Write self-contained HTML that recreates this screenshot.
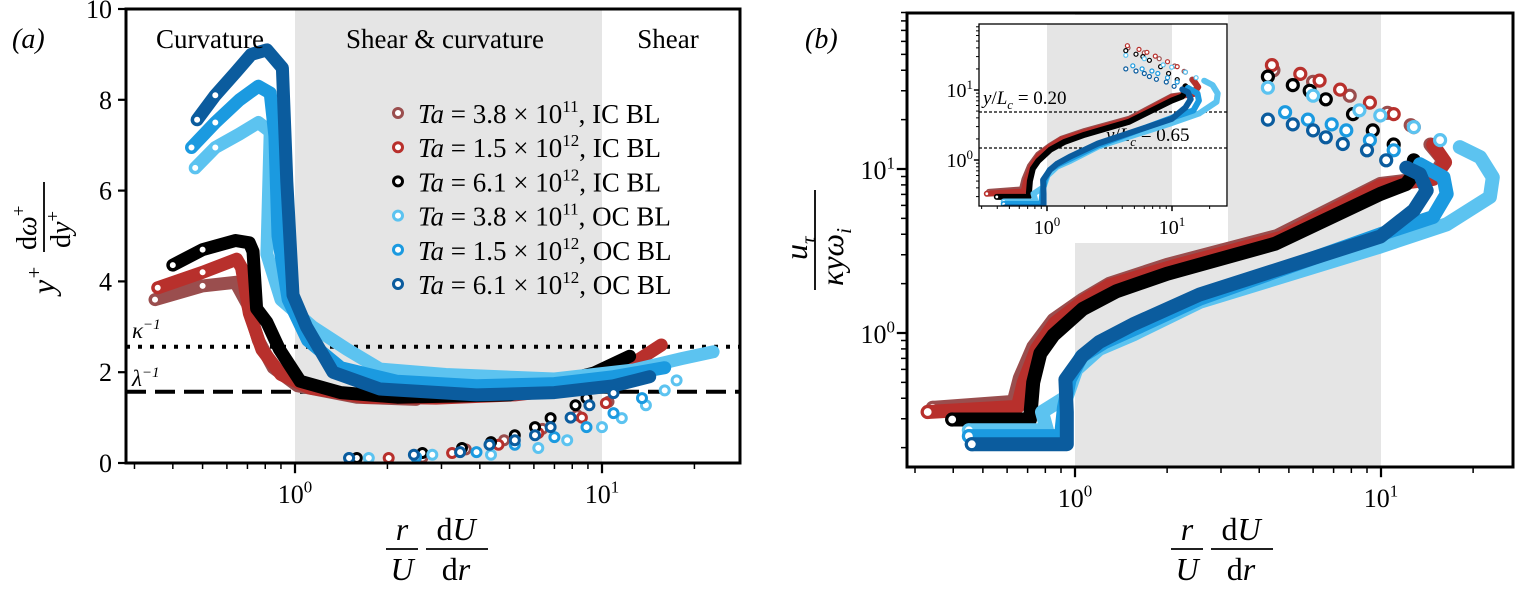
<!DOCTYPE html>
<html><head><meta charset="utf-8">
<style>
html,body{margin:0;padding:0;background:#fff;}
svg{display:block;font-family:"Liberation Serif",serif;}
</style></head>
<body>
<svg id="fig" width="1520" height="589" viewBox="0 0 1520 589"></svg>
<script>
// ---------- DATA ----------
const seriesNames = ["ic-38e11","ic-15e12","ic-61e12","oc-38e11","oc-15e12","oc-61e12"];
const seriesColors = ["#9a4e4e","#b8302c","#000000","#5cc3f0","#1b9ae0","#0b5c9e"];
const legendMant = ["3.8","1.5","6.1","3.8","1.5","6.1"];
const legendExp = ["11","12","12","11","12","12"];
const legendBL = ["IC BL","IC BL","IC BL","OC BL","OC BL","OC BL"];

// panel (a): main branch and tail branch [x, y]
const aMain0 = [[0.35,3.6],[0.5,3.9],[0.64,3.98],[0.7,3.5],[0.76,2.7],[0.85,2.1],[1.02,1.7],[1.59,1.45],[2.48,1.4]];
const aMain1 = [[0.357,3.86],[0.5,4.2],[0.646,4.49],[0.67,4.3],[0.71,3.3],[0.78,2.5],[0.9,1.95],[1.12,1.65],[1.69,1.45],[2.88,1.43],[5.2,1.5],[9.4,1.7],[12,2.1],[15.6,2.6]];
const aMain2 = [[0.40,4.36],[0.5,4.7],[0.64,4.9],[0.71,4.85],[0.73,4.66],[0.75,3.4],[0.81,3.1],[0.89,2.5],[1.04,1.8],[1.41,1.55],[2.15,1.45],[5,1.5],[9.4,1.98],[12.3,2.35]];
const aMain3 = [[0.473,6.5],[0.55,6.95],[0.66,7.25],[0.76,7.5],[0.83,7.3],[0.81,4.6],[0.9,3.6],[1.14,3.0],[1.48,2.5],[1.89,2.07],[3.1,1.95],[7,1.85],[12.7,2.05],[18.2,2.3],[23,2.45]];
const aMain4 = [[0.46,6.95],[0.55,7.5],[0.66,8.0],[0.76,8.3],[0.83,8.15],[0.86,7.2],[0.88,5.0],[0.95,3.6],[1.1,2.7],[1.41,2.1],[2.15,1.8],[3.9,1.7],[7,1.75],[10.9,1.9],[16,2.1]];
const aMain5 = [[0.48,7.56],[0.55,8.1],[0.64,8.6],[0.72,9.0],[0.81,9.1],[0.91,8.7],[0.94,6.2],[0.985,3.7],[1.09,3.0],[1.33,2.0],[1.89,1.63],[3.9,1.5],[7.0,1.55],[10.9,1.7],[14.3,1.9]];
const aTail0 = [[2.6,0.12],[3.6,0.3],[4.8,0.5],[6.4,0.75],[8.3,1.05],[10.5,1.35]];
const aTail1 = [[2.02,0.11],[3.25,0.22],[4.6,0.4],[6.2,0.66],[8.6,1.0],[10.3,1.32]];
const aTail2 = [[1.59,0.11],[2.6,0.22],[3.5,0.33],[4.35,0.46],[5.2,0.61],[6.05,0.79],[6.8,0.99],[8.2,1.27],[8.9,1.43]];
const aTail3 = [[1.74,0.11],[2.8,0.18],[4.35,0.18],[6.2,0.33],[7.7,0.5],[10,0.79],[11.6,0.99],[13.9,1.27],[16,1.6],[17.5,1.82]];
const aTail4 = [[1.5,0.11],[2.48,0.13],[3.9,0.24],[5.2,0.4],[7.0,0.57],[8.9,0.79],[10.9,1.1],[13.5,1.43]];
const aTail5 = [[1.5,0.11],[2.44,0.18],[3.45,0.24],[4.3,0.4],[5.2,0.5],[6.05,0.61],[6.8,0.79],[7.9,1.0],[9.1,1.27],[10.9,1.54]];

// panel (b)
const bMain0 = [[0.343,0.35],[0.63,0.38],[0.66,0.53],[0.73,0.82],[0.85,1.2],[1.06,1.6],[1.3,2.0],[2.0,2.6],[4.57,3.9],[9.95,8.1],[14.8,8.9],[16,11.3],[14.5,14.1]];
const bMain1 = [[0.33,0.33],[0.65,0.355],[0.68,0.5],[0.75,0.8],[0.86,1.15],[1.06,1.55],[1.3,1.95],[2.1,2.55],[4.7,3.8],[9.95,7.9],[14.8,8.7],[16.2,11],[14.8,14]];
const bMain2 = [[0.397,0.297],[0.713,0.297],[0.73,0.5],[0.77,0.75],[0.85,0.97],[1.06,1.4],[1.37,1.8],[2.0,2.3],[4.5,3.5],[9.95,7.05],[12.1,8.1],[13.1,9.9],[12.8,11.3]];
const bMain3 = [[0.45,0.255],[0.81,0.255],[0.78,0.33],[0.94,0.41],[1.01,0.6],[1.2,0.8],[1.55,0.98],[2.56,1.55],[9.95,3.37],[16.4,4.6],[22.7,6.75],[23.2,8.9],[21.1,11.8],[18.1,13.6]];
const bMain4 = [[0.45,0.235],[0.9,0.235],[0.92,0.35],[0.96,0.52],[1.05,0.72],[1.25,0.88],[1.6,1.08],[2.56,1.62],[9.95,4.0],[14.8,5.1],[16.4,7.05],[16,8.9],[13.4,10.7]];
const bMain5 = [[0.46,0.21],[0.94,0.21],[0.94,0.33],[0.93,0.52],[1.06,0.73],[1.2,0.88],[1.55,1.13],[2.56,1.72],[9.95,3.87],[12.8,5.6],[14.1,7.4],[13.4,9.3],[12.1,10.2]];
const bTail0 = [[12.5,18.5],[10.5,22],[7.9,28],[6,34],[4.45,40]];
const bTail1 = [[12.8,18],[11,21.6],[9.2,25.4],[7.35,30.5],[6.3,34.6],[5.45,38],[4.4,43]];
const bTail2 = [[11,14.1],[9.4,17.2],[8.1,21.6],[6.6,26.6],[5.85,30],[5.15,32.5],[4.27,36.6]];
const bTail3 = [[15.6,15],[12.8,18],[9.95,21.2],[8.5,22.8],[6,28],[4.27,31.3]];
const bTail4 = [[11,13],[9.2,15],[7.7,17.2],[6.9,18.7],[5.77,20],[4.86,22.2]];
const bTail5 = [[10.4,11.3],[9,13],[7.5,14.2],[6.6,15.6],[6,17.2],[5.15,18.7],[4.27,20]];

const aTicksY = [0,2,4,6,8,10];
const kappaInv = 2.56, lambdaInv = 1.57;

const aMain=[aMain0,aMain1,aMain2,aMain3,aMain4,aMain5];
const aTail=[aTail0,aTail1,aTail2,aTail3,aTail4,aTail5];
const bMain=[bMain0,bMain1,bMain2,bMain3,bMain4,bMain5];
const bTail=[bTail0,bTail1,bTail2,bTail3,bTail4,bTail5];

// ---------- helpers ----------
const NS="http://www.w3.org/2000/svg";
const svg=document.getElementById('fig');
function mk(tag,attrs,parent){const e=document.createElementNS(NS,tag);for(const k in attrs)e.setAttribute(k,attrs[k]);(parent||svg).appendChild(e);return e;}
const lg=Math.log10;

const A={x0:126,x1:740,y0:9,y1:463};
const axA=v=>295+307*lg(v);
const ayA=v=>463-45.4*v;
const B={x0:907,x1:1513,y0:13,y1:467};
const axB=v=>1075+306*lg(v);
const ayB=v=>333-164*lg(v);
const I={x0:979,x1:1227,y0:24,y1:206};
const axI=v=>1047+125*lg(v);
const ayI=v=>160-70*lg(v);

function text(str,x,y,size,attrs,parent){const t=mk('text',Object.assign({x:x,y:y,'font-size':size},attrs||{}),parent);t.textContent=str;return t;}
function sup(t,base,s,size){t.textContent='';const a=document.createElementNS(NS,'tspan');a.textContent=base;t.appendChild(a);const b=document.createElementNS(NS,'tspan');b.setAttribute('dy',-size*0.4);b.setAttribute('font-size',size*0.65);b.textContent=s;t.appendChild(b);}

function drawSeries(g,main,tail,fx,fy,i,lw,r,sw,clip,nStart){
  const col=seriesColors[i];
  let d='';main.forEach((p,k)=>{d+=(k?'L':'M')+fx(p[0]).toFixed(1)+','+fy(p[1]).toFixed(1);});
  const path=mk('path',{d:d,fill:'none',stroke:col,'stroke-width':lw,'stroke-linejoin':'round','stroke-linecap':'round','clip-path':clip},g);
  
  
  main.slice(0,nStart).concat(tail).forEach(p=>{
    const c=mk('circle',{cx:fx(p[0]).toFixed(1),cy:fy(p[1]).toFixed(1),r:r,fill:'#fff',stroke:col,'stroke-width':sw,'clip-path':clip},g);
    
    
  });
}

function logMinor(fx,lo,hi,len,g,horizontal,axisPos,w){
  for(let e=-1;e<=2;e++){for(let m=1;m<10;m++){const v=m*Math.pow(10,e);if(v<lo||v>hi)continue;const p=fx(v);const L=m===1?len*1.7:len;
    if(horizontal) mk('line',{x1:p,x2:p,y1:axisPos,y2:axisPos+L,stroke:'#000','stroke-width':m===1?w*1.5:w},g);
    else mk('line',{y1:p,y2:p,x1:axisPos,x2:axisPos-L,stroke:'#000','stroke-width':m===1?w*1.5:w},g);}}
}

const defs=mk('defs',{});
const cpA=mk('clipPath',{id:'cA'},defs);mk('rect',{x:A.x0,y:A.y0,width:A.x1-A.x0,height:A.y1-A.y0},cpA);
const cpB=mk('clipPath',{id:'cB'},defs);mk('rect',{x:B.x0,y:B.y0,width:B.x1-B.x0,height:B.y1-B.y0},cpB);
const cpI=mk('clipPath',{id:'cI'},defs);mk('rect',{x:I.x0,y:I.y0,width:I.x1-I.x0,height:I.y1-I.y0},cpI);

// ================= PANEL A =================
const gA=mk('g',{});
const bandA=mk('rect',{x:axA(1),y:A.y0,width:axA(10)-axA(1),height:A.y1-A.y0,fill:'#e5e5e5'},gA);

const kl=mk('line',{x1:A.x0,x2:A.x1,y1:ayA(kappaInv),y2:ayA(kappaInv),stroke:'#000','stroke-width':4,'stroke-dasharray':'4 8'},gA);

const ll=mk('line',{x1:A.x0,x2:A.x1,y1:ayA(lambdaInv),y2:ayA(lambdaInv),stroke:'#000','stroke-width':4,'stroke-dasharray':'20 9'},gA);

for(let i=0;i<6;i++){const g=mk('g',{},gA);drawSeries(g,aMain[i],aTail[i],axA,ayA,i,13,4.5,3,'url(#cA)',2);}
mk('rect',{x:A.x0,y:A.y0,width:A.x1-A.x0,height:A.y1-A.y0,fill:'none',stroke:'#000','stroke-width':3},gA);
const axTA=mk('g',{},gA);
logMinor(axA,0.28,28,6,axTA,true,A.y1,1.5);
let t=text('',axA(1),503,26,{'text-anchor':'middle'},axTA);sup(t,'10','0',26);
t=text('',axA(10),503,26,{'text-anchor':'middle'},axTA);sup(t,'10','1',26);
const ayTA=mk('g',{},gA);
aTicksY.forEach(v=>{mk('line',{x1:A.x0,x2:A.x0-8,y1:ayA(v),y2:ayA(v),stroke:'#000','stroke-width':2.2},ayTA);
  const tt=text(String(v),A.x0-14,ayA(v)+9,26,{'text-anchor':'end'},ayTA);});
[['Curvature',210],['Shear & curvature',445],['Shear',668]].forEach(r=>{const tt=text(r[0],r[1],48,27,{'text-anchor':'middle'},gA);});
t=text('(a)',12,48,28,{'font-style':'italic'},gA);
t=text('',132,338,23,{'font-style':'italic'},gA);sup(t,'κ','−1',23);
t=text('',132,386,23,{'font-style':'italic'},gA);sup(t,'λ','−1',23);
// legend
const leg=mk('g',{},gA);
for(let i=0;i<6;i++){const y=113+i*34.2;
  const e=mk('g',{},leg);
  mk('circle',{cx:398,cy:y,r:4.5,fill:'#fff',stroke:seriesColors[i],'stroke-width':3},e);
  const tt=mk('text',{x:418,y:y+10,'font-size':27},e);
  const parts=[['Ta','italic',0,27],[' = '+legendMant[i]+' × 10','normal',0,27],[legendExp[i],'normal',-11,17],[', '+legendBL[i],'normal',11,27]];
  parts.forEach(p=>{const s=document.createElementNS(NS,'tspan');s.textContent=p[0];if(p[1]==='italic')s.setAttribute('font-style','italic');if(p[2])s.setAttribute('dy',p[2]);s.setAttribute('font-size',p[3]);tt.appendChild(s);});
}
// y label a
const yl=mk('g',{transform:'translate(44,232) rotate(-90)'},gA);
t=text('',-62,10,32,{'font-style':'italic'},yl);sup(t,'y','+',32);
t=text('',-18,-8,28,{},yl);t.innerHTML='d<tspan font-style="italic">ω</tspan><tspan dy="-11" font-size="19">+</tspan>';
mk('line',{x1:-20,x2:50,y1:0,y2:0,stroke:'#000','stroke-width':1.8},yl);
t=text('',-16,26,28,{},yl);t.innerHTML='d<tspan font-style="italic">y</tspan><tspan dy="-11" font-size="19">+</tspan>';
// x label
function xFrac(cx,g,nm){
  const gg=mk('g',{transform:'translate('+cx+',0)'},g);
  text('r',-40,540,32,{'font-style':'italic','text-anchor':'middle'},gg);
  mk('line',{x1:-56,x2:-24,y1:549,y2:549,stroke:'#000','stroke-width':1.8},gg);
  text('U',-40,580,32,{'font-style':'italic','text-anchor':'middle'},gg);
  const n=text('',14,540,32,{'text-anchor':'middle'},gg);n.innerHTML='d<tspan font-style="italic">U</tspan>';
  mk('line',{x1:-16,x2:46,y1:549,y2:549,stroke:'#000','stroke-width':1.8},gg);
  const dd=text('',14,580,32,{'text-anchor':'middle'},gg);dd.innerHTML='d<tspan font-style="italic">r</tspan>';
}
xFrac(442,gA,'x-axis-title-a');

// ================= PANEL B =================
const gB=mk('g',{});
const bandB=mk('rect',{x:axB(1),y:B.y0,width:axB(10)-axB(1),height:B.y1-B.y0,fill:'#e5e5e5'},gB);

mk('rect',{x:B.x0+2,y:B.y0+2,width:1228-B.x0-2,height:243-B.y0-2,fill:'#fff'},gB);
for(let i=0;i<6;i++){const g=mk('g',{},gB);drawSeries(g,bMain[i],bTail[i],axB,ayB,i,14,5.5,3.2,'url(#cB)',1);}
mk('rect',{x:B.x0,y:B.y0,width:B.x1-B.x0,height:B.y1-B.y0,fill:'none',stroke:'#000','stroke-width':3},gB);
const axTB=mk('g',{},gB);
logMinor(axB,0.28,27,6,axTB,true,B.y1,1.5);
t=text('',axB(1),507,26,{'text-anchor':'middle'},axTB);sup(t,'10','0',26);
t=text('',axB(10),507,26,{'text-anchor':'middle'},axTB);sup(t,'10','1',26);
const ayTB=mk('g',{},gB);
logMinor(ayB,0.17,90,6,ayTB,false,B.x0,1.5);
t=text('',B.x0-12,ayB(1)+10,26,{'text-anchor':'end'},ayTB);sup(t,'10','0',26);
t=text('',B.x0-12,ayB(10)+10,26,{'text-anchor':'end'},ayTB);sup(t,'10','1',26);
t=text('(b)',805,48,28,{'font-style':'italic'},gB);
const ylb=mk('g',{transform:'translate(815,240) rotate(-90)'},gB);
t=text('',-20,-8,32,{'font-style':'italic'},ylb);t.innerHTML='u<tspan dy="8" font-size="21">τ</tspan>';
mk('line',{x1:-50,x2:50,y1:0,y2:0,stroke:'#000','stroke-width':1.8},ylb);
t=text('',-46,28,32,{'font-style':'italic'},ylb);t.innerHTML='κyω<tspan dy="8" font-size="21">i</tspan>';
xFrac(1227,gB,'x-axis-title-b');

// inset
const gI=mk('g',{});
mk('rect',{x:I.x0,y:I.y0,width:I.x1-I.x0,height:I.y1-I.y0,fill:'#fff'},gI);
mk('rect',{x:axI(1),y:I.y0,width:axI(10)-axI(1),height:I.y1-I.y0,fill:'#e5e5e5'},gI);
[[112,'0.20',983,104],[148,'0.65',1106,141]].forEach(r=>{
  const ln=mk('line',{x1:I.x0,x2:I.x1,y1:r[0],y2:r[0],stroke:'#000','stroke-width':1.3,'stroke-dasharray':'3 2'},gI);
  
  const tt=text('',r[2],r[3],19,{},gI);tt.innerHTML='<tspan font-style="italic">y</tspan>/<tspan font-style="italic">L</tspan><tspan font-style="italic" dy="5" font-size="13">c</tspan><tspan dy="-5"> = '+r[1]+'</tspan>';
  
});
for(let i=0;i<6;i++){const g=mk('g',{},gI);drawSeries(g,bMain[i],bTail[i],axI,ayI,i,6,2,1.2,'url(#cI)',1);}
mk('rect',{x:I.x0,y:I.y0,width:I.x1-I.x0,height:I.y1-I.y0,fill:'none',stroke:'#000','stroke-width':1.3},gI);
logMinor(axI,0.29,27,3,gI,true,I.y1,1);
logMinor(ayI,0.25,80,3,gI,false,I.x0,1);
t=text('',axI(1),234,20,{'text-anchor':'middle'},gI);sup(t,'10','0',20);
t=text('',axI(10),234,20,{'text-anchor':'middle'},gI);sup(t,'10','1',20);
t=text('',I.x0-6,ayI(1)+7,20,{'text-anchor':'end'},gI);sup(t,'10','0',20);
t=text('',I.x0-6,ayI(10)+7,20,{'text-anchor':'end'},gI);sup(t,'10','1',20);
</script>
</body></html>
